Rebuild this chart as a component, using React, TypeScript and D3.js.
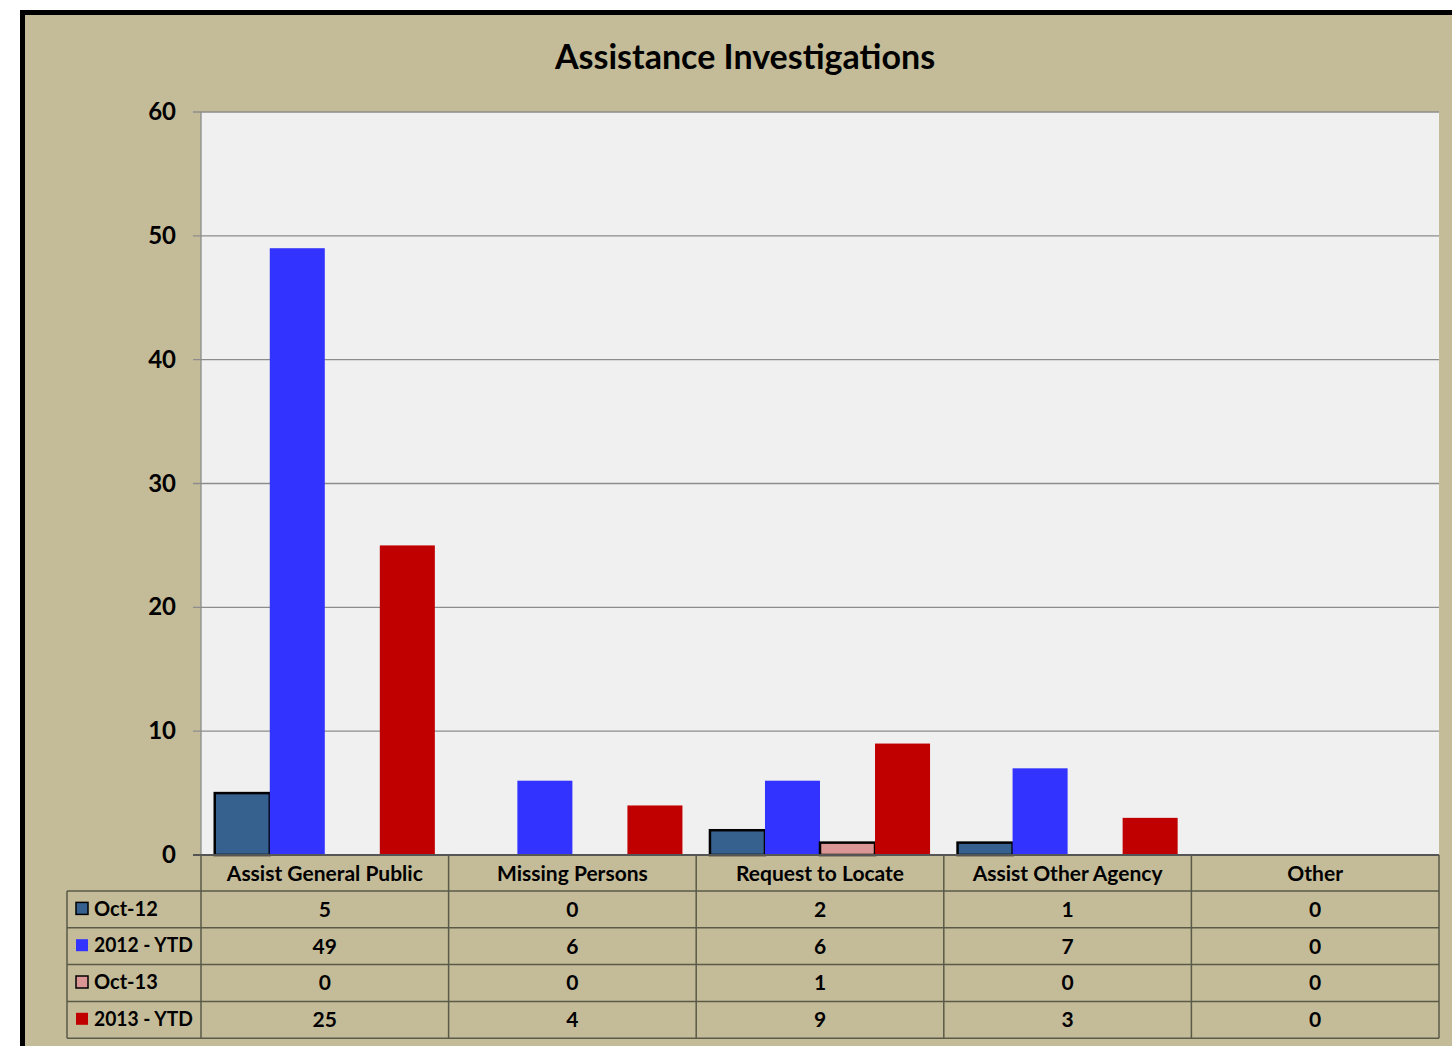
import React from 'react'
import { scaleBand, scaleLinear } from 'd3'

const categories = ['Assist General Public', 'Missing Persons', 'Request to Locate', 'Assist Other Agency', 'Other']
const seriesNames = ['Oct-12', '2012 - YTD', 'Oct-13', '2013 - YTD']
const oct12 = [5, 0, 2, 1, 0]
const ytd2012 = [49, 6, 6, 7, 0]
const oct13 = [0, 0, 1, 0, 0]
const ytd2013 = [25, 4, 9, 3, 0]
const yTicks = [0, 10, 20, 30, 40, 50, 60]

const seriesValues = [oct12, ytd2012, oct13, ytd2013]
const seriesColors = ['#36618f', '#3333ff', '#da9694', '#c00000']
const seriesOutlined = [true, false, true, false]

const FONT = 'Lato, "Open Sans", sans-serif'

const App = () => {
    const W = 1452, H = 1046
    const left = 201, right = 1439, top = 112, bottom = 855
    const tableLeft = 67
    const rowH = 36.8

    const xScale = scaleBand<string>()
        .domain(categories)
        .range([left, right])

    const inner = scaleBand<string>()
        .domain(seriesNames)
        .range([0, xScale.bandwidth()])
        .paddingOuter(0.25)
        .paddingInner(0)

    const yScale = scaleLinear()
        .domain([0, 60])
        .range([bottom, top])

    const rowsTop = bottom + 36

    return (
        <svg width={W} height={H} style={{ position: 'absolute', left: 0, top: 0 }} fontFamily={FONT}>
            {/* frame */}
            <rect x={0} y={0} width={W} height={H} fill='#ffffff' />
            <rect x={22.5} y={12.5} width={W + 20} height={H + 20} fill='#c4bc98' stroke='#000' strokeWidth={5} />
            <text x={745} y={60} textAnchor='middle' dominantBaseline='middle' fontWeight='bold' fontSize={34} fill='#000'>
                Assistance Investigations
            </text>

            {/* plot area */}
            <rect x={left} y={top} width={right - left} height={bottom - top} fill='#f0f0f0' />
            {yTicks.map(t => (
                <g key={t}>
                    <line x1={left - 8} x2={right} y1={yScale(t)} y2={yScale(t)} stroke='#8c8c8c' strokeWidth={1.3} />
                    <text x={176} y={yScale(t) + 2} textAnchor='end' dominantBaseline='middle' fontWeight='bold' fontSize={24}>
                        {t}
                    </text>
                </g>
            ))}
            <line x1={left} x2={left} y1={top} y2={bottom} stroke='#8c8c8c' strokeWidth={1.3} />

            {/* bars */}
            {categories.map((c, ci) => (
                <g key={c} transform={`translate(${xScale(c)},0)`}>
                    {seriesNames.map((s, si) => {
                        const v = seriesValues[si][ci]
                        if (v === 0) return null
                        return (
                            <rect
                                key={s}
                                x={inner(s)}
                                y={yScale(v)}
                                width={inner.bandwidth()}
                                height={bottom - yScale(v)}
                                fill={seriesColors[si]}
                                stroke={seriesOutlined[si] ? '#000' : 'none'}
                                strokeWidth={seriesOutlined[si] ? 2.5 : 0}
                            />
                        )
                    })}
                </g>
            ))}
            <line x1={left - 8} x2={right} y1={bottom} y2={bottom} stroke='#555' strokeWidth={2} />

            {/* data table */}
            <g stroke='#5a5a48' strokeWidth={1.5} fill='none'>
                <line x1={tableLeft} x2={right} y1={rowsTop} y2={rowsTop} />
                {seriesNames.map((s, si) => (
                    <line key={s} x1={tableLeft} x2={right} y1={rowsTop + rowH * (si + 1)} y2={rowsTop + rowH * (si + 1)} />
                ))}
                <line x1={tableLeft} x2={tableLeft} y1={rowsTop} y2={rowsTop + rowH * 4} />
                <line x1={left} x2={left} y1={bottom} y2={rowsTop + rowH * 4} />
                {categories.map(c => (
                    <line key={c} x1={xScale(c)! + xScale.bandwidth()} x2={xScale(c)! + xScale.bandwidth()} y1={bottom} y2={rowsTop + rowH * 4} />
                ))}
            </g>
            {categories.map(c => (
                <text key={c} x={xScale(c)! + xScale.bandwidth() / 2} y={bottom + 21} textAnchor='middle' dominantBaseline='middle' fontWeight='bold' fontSize={21}>
                    {c}
                </text>
            ))}
            {seriesNames.map((s, si) => {
                const cy = rowsTop + rowH * si + rowH / 2
                return (
                    <g key={s}>
                        <rect x={76} y={cy - 7} width={12} height={12} fill={seriesColors[si]}
                            stroke={seriesOutlined[si] ? '#000' : 'none'} strokeWidth={seriesOutlined[si] ? 1.5 : 0} />
                        <text x={94} y={cy + 1} dominantBaseline='middle' fontWeight='bold' fontSize={20} textLength={s.length > 6 ? 99 : undefined} lengthAdjust='spacingAndGlyphs'>{s}</text>
                        {categories.map((c, ci) => (
                            <text key={c} x={xScale(c)! + xScale.bandwidth() / 2} y={cy + 2} textAnchor='middle' dominantBaseline='middle' fontWeight='bold' fontSize={21}>
                                {seriesValues[si][ci]}
                            </text>
                        ))}
                    </g>
                )
            })}
        </svg>
    )
}

export default App
